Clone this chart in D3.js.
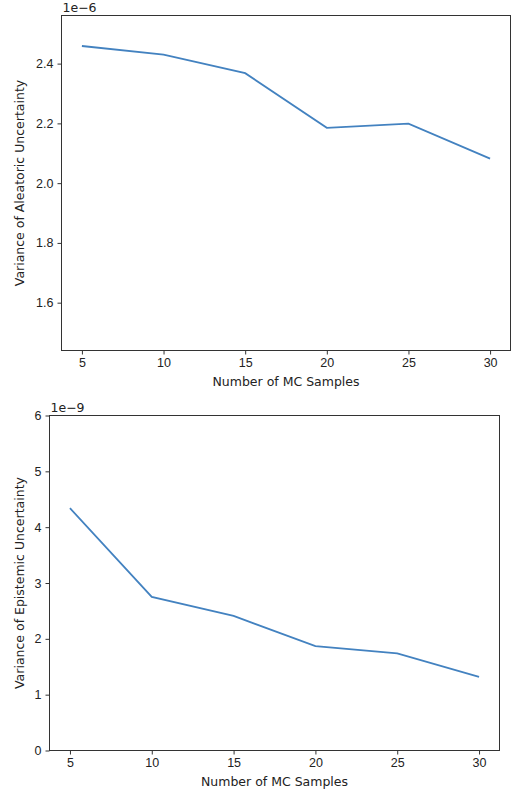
<!DOCTYPE html>
<html>
<head>
    <meta charset="utf-8">
    <title>Variance vs Number of MC Samples</title>
    <script src="https://d3js.org/d3.v7.min.js"></script>
    <style>
        body {
            margin: 0;
            background: #fff;
        }
        svg {
            font-family: "DejaVu Sans", sans-serif;
        }
        .axis path, .axis line {
            stroke: #333;
        }
        .axis text {
            fill: #222;
            font-size: 12.5px;
        }
        .label {
            fill: #222;
            font-size: 12.5px;
        }
        .line {
            fill: none;
            stroke: #4382c0;
            stroke-width: 1.8;
        }
    </style>
</head>
<body>
<div id="chart"></div>
<script>
    // data
    var mcSamples = [5, 10, 15, 20, 25, 30];
    var aleatoricVar = [2.459, 2.430, 2.368, 2.185, 2.199, 2.082];   // x 1e-6
    var epistemicVar = [4.34, 2.75, 2.41, 1.87, 1.74, 1.32];         // x 1e-9
    var xTicks = [5, 10, 15, 20, 25, 30];
    var aleatoricTicks = [1.6, 1.8, 2.0, 2.2, 2.4];
    var epistemicTicks = [0, 1, 2, 3, 4, 5, 6];

    var width = 518;
    var height = 796;

    var svg = d3.select("#chart").append("svg")
        .attr("width", width)
        .attr("height", height);

    /* one panel */
    function drawPanel(box, values, yDomain, yTicks, yFormat, offsetText, yLabel) {
        var xScale = d3.scaleLinear()
            .domain([3.75, 31.25])
            .range([box.left, box.right]);
        var yScale = d3.scaleLinear()
            .domain(yDomain)
            .range([box.bottom, box.top]);

        var g = svg.append("g");

        var line = d3.line()
            .x(function(d, i) { return xScale(mcSamples[i]); })
            .y(function(d) { return yScale(d); });

        g.append("path")
            .datum(values)
            .attr("class", "line")
            .attr("d", line);

        // frame
        g.append("rect")
            .attr("x", box.left)
            .attr("y", box.top)
            .attr("width", box.right - box.left)
            .attr("height", box.bottom - box.top)
            .attr("fill", "none")
            .attr("stroke", "#333");

        var xAxis = d3.axisBottom(xScale)
            .tickValues(xTicks)
            .tickSize(4)
            .tickPadding(4)
            .tickSizeOuter(0);
        g.append("g")
            .attr("class", "axis")
            .attr("transform", "translate(0," + box.bottom + ")")
            .call(xAxis)
            .select(".domain").remove();

        var yAxis = d3.axisLeft(yScale)
            .tickValues(yTicks)
            .tickFormat(yFormat)
            .tickSize(4)
            .tickPadding(4)
            .tickSizeOuter(0);
        g.append("g")
            .attr("class", "axis")
            .attr("transform", "translate(" + box.left + ",0)")
            .call(yAxis)
            .select(".domain").remove();

        g.selectAll(".axis text").attr("font-family", null);

        g.append("text")
            .attr("class", "label")
            .attr("x", box.left + 1)
            .attr("y", box.top - 4)
            .text(offsetText);

        g.append("text")
            .attr("class", "label")
            .attr("text-anchor", "middle")
            .attr("x", (box.left + box.right) / 2)
            .attr("y", box.bottom + 35)
            .text("Number of MC Samples");

        g.append("text")
            .attr("class", "label")
            .attr("text-anchor", "middle")
            .attr("transform", "translate(24," + ((box.top + box.bottom) / 2) + ") rotate(-90)")
            .text(yLabel);
    }

    drawPanel({left: 61.5, right: 510.5, top: 15.5, bottom: 350.5},
        aleatoricVar, [1.44, 2.561], aleatoricTicks, d3.format(".1f"),
        "1e\u22126", "Variance of Aleatoric Uncertainty");

    drawPanel({left: 49.5, right: 499.5, top: 415.5, bottom: 750.5},
        epistemicVar, [0, 6], epistemicTicks, d3.format("d"),
        "1e\u22129", "Variance of Epistemic Uncertainty");
</script>
</body>
</html>
